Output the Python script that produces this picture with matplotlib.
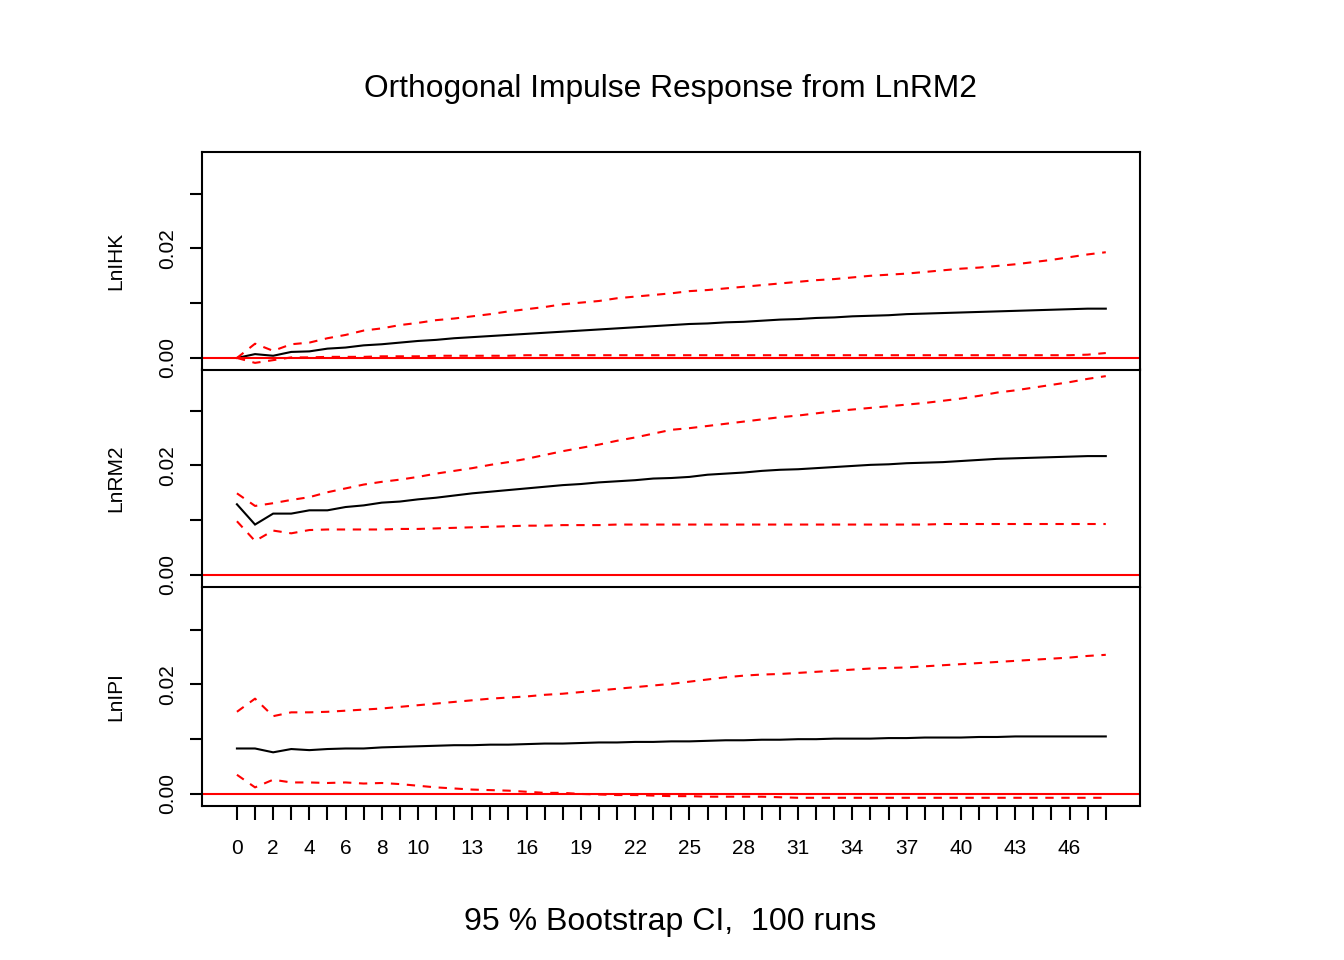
import matplotlib
matplotlib.use("Agg")
import matplotlib.pyplot as plt
import numpy as np

plt.rcParams['font.family'] = ['Liberation Sans', 'DejaVu Sans']
plt.rcParams['lines.scale_dashes'] = False

horizon = list(range(49))
xtick_labels = {0: "0", 2: "2", 4: "4", 6: "6", 8: "8", 10: "10", 13: "13", 16: "16",
                19: "19", 22: "22", 25: "25", 28: "28", 31: "31", 34: "34", 37: "37",
                40: "40", 43: "43", 46: "46"}
panel_names = ["LnIHK", "LnRM2", "LnIPI"]

ihk_irf = [0.0000, 0.0007, 0.0004, 0.0011, 0.0012, 0.0017, 0.0019, 0.0023, 0.0025, 0.0028,
           0.0031, 0.0033, 0.0036, 0.0038, 0.0040, 0.0042, 0.0044, 0.0046, 0.0048, 0.0050,
           0.0052, 0.0054, 0.0056, 0.0058, 0.0060, 0.0062, 0.0063, 0.0065, 0.0066, 0.0068,
           0.0070, 0.0071, 0.0073, 0.0074, 0.0076, 0.0077, 0.0078, 0.0080, 0.0081, 0.0082,
           0.0083, 0.0084, 0.0085, 0.0086, 0.0087, 0.0088, 0.0089, 0.0090, 0.0090]
ihk_upper = [0.0000, 0.0026, 0.0013, 0.0025, 0.0028, 0.0036, 0.0042, 0.0050, 0.0054, 0.0060,
             0.0064, 0.0069, 0.0072, 0.0076, 0.0080, 0.0085, 0.0089, 0.0093, 0.0098, 0.0101,
             0.0104, 0.0109, 0.0112, 0.0115, 0.0118, 0.0122, 0.0124, 0.0127, 0.0130, 0.0133,
             0.0136, 0.0139, 0.0142, 0.0144, 0.0147, 0.0150, 0.0152, 0.0154, 0.0157, 0.0160,
             0.0163, 0.0165, 0.0168, 0.0171, 0.0175, 0.0179, 0.0184, 0.0189, 0.0193]
ihk_lower = [0.0000, -0.0009, -0.0004, 0.0001, 0.0001, 0.0002, 0.0002, 0.0002, 0.0003, 0.0003,
             0.0003, 0.0004, 0.0004, 0.0004, 0.0004, 0.0004, 0.0005, 0.0005, 0.0005, 0.0005,
             0.0005, 0.0005, 0.0005, 0.0005, 0.0005, 0.0005, 0.0005, 0.0005, 0.0005, 0.0005,
             0.0005, 0.0005, 0.0005, 0.0005, 0.0005, 0.0005, 0.0005, 0.0005, 0.0005, 0.0005,
             0.0005, 0.0005, 0.0005, 0.0005, 0.0005, 0.0005, 0.0005, 0.0006, 0.0009]

rm2_irf = [0.0129, 0.0092, 0.0112, 0.0112, 0.0118, 0.0118, 0.0124, 0.0127, 0.0132, 0.0134,
           0.0138, 0.0141, 0.0145, 0.0149, 0.0152, 0.0155, 0.0158, 0.0161, 0.0164, 0.0166,
           0.0169, 0.0171, 0.0173, 0.0176, 0.0177, 0.0179, 0.0183, 0.0185, 0.0187, 0.0190,
           0.0192, 0.0193, 0.0195, 0.0197, 0.0199, 0.0201, 0.0202, 0.0204, 0.0205, 0.0206,
           0.0208, 0.0210, 0.0212, 0.0213, 0.0214, 0.0215, 0.0216, 0.0217, 0.0217]
rm2_upper = [0.0149, 0.0126, 0.0131, 0.0137, 0.0142, 0.0151, 0.0158, 0.0165, 0.0170, 0.0174,
             0.0179, 0.0185, 0.0190, 0.0195, 0.0201, 0.0206, 0.0212, 0.0219, 0.0226, 0.0232,
             0.0238, 0.0245, 0.0251, 0.0258, 0.0265, 0.0268, 0.0272, 0.0276, 0.0280, 0.0284,
             0.0288, 0.0291, 0.0295, 0.0299, 0.0302, 0.0305, 0.0308, 0.0311, 0.0314, 0.0318,
             0.0322, 0.0327, 0.0333, 0.0337, 0.0342, 0.0347, 0.0352, 0.0358, 0.0363]
rm2_lower = [0.0098, 0.0062, 0.0081, 0.0076, 0.0082, 0.0083, 0.0083, 0.0083, 0.0083, 0.0084,
             0.0084, 0.0085, 0.0086, 0.0087, 0.0088, 0.0089, 0.0090, 0.0090, 0.0091, 0.0091,
             0.0091, 0.0092, 0.0092, 0.0092, 0.0092, 0.0092, 0.0092, 0.0092, 0.0092, 0.0092,
             0.0092, 0.0092, 0.0092, 0.0092, 0.0092, 0.0092, 0.0092, 0.0092, 0.0092, 0.0093,
             0.0093, 0.0093, 0.0093, 0.0093, 0.0093, 0.0093, 0.0093, 0.0093, 0.0093]

ipi_irf = [0.0083, 0.0083, 0.0076, 0.0082, 0.0080, 0.0082, 0.0083, 0.0083, 0.0085, 0.0086,
           0.0087, 0.0088, 0.0089, 0.0089, 0.0090, 0.0090, 0.0091, 0.0092, 0.0092, 0.0093,
           0.0094, 0.0094, 0.0095, 0.0095, 0.0096, 0.0096, 0.0097, 0.0098, 0.0098, 0.0099,
           0.0099, 0.0100, 0.0100, 0.0101, 0.0101, 0.0101, 0.0102, 0.0102, 0.0103, 0.0103,
           0.0103, 0.0104, 0.0104, 0.0105, 0.0105, 0.0105, 0.0105, 0.0105, 0.0105]
ipi_upper = [0.0150, 0.0174, 0.0142, 0.0149, 0.0149, 0.0150, 0.0152, 0.0154, 0.0156, 0.0159,
             0.0162, 0.0165, 0.0168, 0.0171, 0.0174, 0.0176, 0.0178, 0.0181, 0.0183, 0.0186,
             0.0189, 0.0192, 0.0195, 0.0198, 0.0201, 0.0205, 0.0209, 0.0213, 0.0216, 0.0218,
             0.0219, 0.0221, 0.0223, 0.0225, 0.0227, 0.0229, 0.0230, 0.0231, 0.0233, 0.0235,
             0.0237, 0.0239, 0.0241, 0.0243, 0.0245, 0.0247, 0.0249, 0.0252, 0.0254]
ipi_lower = [0.0035, 0.0012, 0.0026, 0.0021, 0.0021, 0.0020, 0.0021, 0.0019, 0.0020, 0.0018,
             0.0015, 0.0012, 0.0010, 0.0008, 0.0007, 0.0006, 0.0004, 0.0002, 0.0002, 0.0000,
             -0.0001, -0.0002, -0.0002, -0.0003, -0.0004, -0.0004, -0.0005, -0.0005, -0.0005, -0.0005,
             -0.0006, -0.0007, -0.0007, -0.0007, -0.0007, -0.0007, -0.0007, -0.0007, -0.0007, -0.0007,
             -0.0007, -0.0007, -0.0007, -0.0007, -0.0007, -0.0007, -0.0007, -0.0007, -0.0007]

series = [(ihk_irf, ihk_upper, ihk_lower),
          (rm2_irf, rm2_upper, rm2_lower),
          (ipi_irf, ipi_upper, ipi_lower)]

W, H = 1344, 960
fig = plt.figure(figsize=(W / 100, H / 100), dpi=100)

left_px, right_px = 202, 1140
panel_tops = [152, 369, 588]
panel_h = 218
lw = 1.5
fs_tick = 15

for k, (irf, up, lo) in enumerate(series):
    top = panel_tops[k]
    ax = fig.add_axes([left_px / W, 1 - (top + panel_h) / H,
                       (right_px - left_px) / W, panel_h / H])
    ax.plot(horizon, irf, color='black', lw=lw, solid_joinstyle='miter')
    ax.plot(horizon, up, color='red', lw=lw, dashes=(6, 5.5), dash_capstyle='butt')
    ax.plot(horizon, lo, color='red', lw=lw, dashes=(6, 5.5), dash_capstyle='butt')
    ax.axhline(0, color='red', lw=lw)
    ax.set_xlim(-1.93, 49.89)
    ax.set_ylim(-0.0022, 0.0376)
    ax.set_yticks([0.0, 0.01, 0.02, 0.03])
    ax.set_yticklabels(['0.00', '', '0.02', ''], rotation=90, va='center',
                       fontsize=fs_tick)
    ax.tick_params(axis='y', length=9, width=lw, pad=9)
    for s in ax.spines.values():
        s.set_linewidth(lw)
    if k > 0:
        ax.spines['top'].set_visible(False)
    if k < 2:
        ax.set_xticks([])
    else:
        ax.set_xticks(horizon)
        ax.set_xticklabels([xtick_labels.get(h, "") for h in horizon], fontsize=fs_tick)
        ax.tick_params(axis='x', length=10, width=lw, pad=14)
    ax.patch.set_alpha(0)
    fig.text(116 / W, 1 - (top + panel_h / 2) / H, panel_names[k], rotation=90,
             ha='center', va='center', fontsize=fs_tick)

fig.text(670 / W, 1 - 89 / H, "Orthogonal Impulse Response from LnRM2",
         ha='center', va='center', fontsize=22.9)
fig.text(670 / W, 1 - 922 / H, "95 % Bootstrap CI,  100 runs",
         ha='center', va='center', fontsize=23.1)

fig.savefig("out.png", dpi=100)
